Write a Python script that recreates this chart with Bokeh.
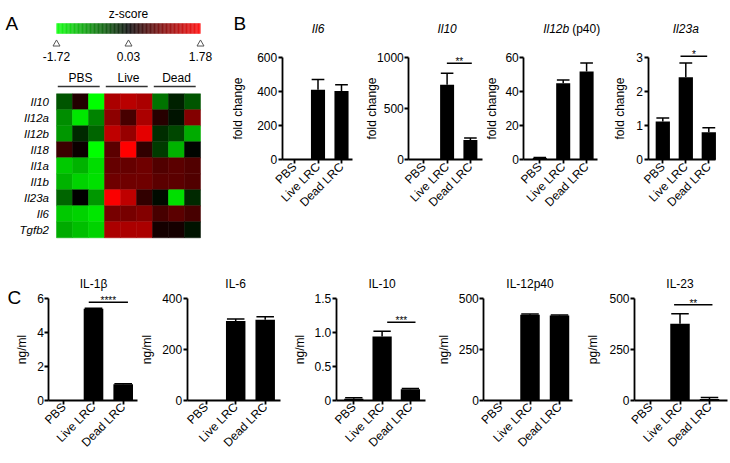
import math
import numpy as np
from bokeh.plotting import figure
from bokeh.models import Range1d, FixedTicker, LinearColorMapper, ColumnDataSource
from bokeh.layouts import row, column
from bokeh.transform import transform
from bokeh.core.properties import value
from bokeh.embed import file_html
from bokeh.resources import INLINE

FONT = "Liberation Sans"
FS = "12px"

# ---------------- Panel A data (z-scores) ----------------
genes = ["Il10", "Il12a", "Il12b", "Il18", "Il1a", "Il1b", "Il23a", "Il6", "Tgfb2"]
heat_groups = ["PBS", "Live", "Dead"]
z_il10 = [-0.55, 0.27, -1.72, 1.20, 1.30, 1.20, -0.75, -0.20, -0.55]
z_il12a = [-0.93, -1.55, -0.86, 1.00, 0.51, 1.20, 0.30, -0.10, 0.92]
z_il12b = [-1.00, -0.25, -0.66, 1.33, 1.06, 1.60, -0.28, -0.45, -1.14]
z_il18 = [0.44, 0.10, -1.72, 0.65, 1.78, 0.37, -0.38, -1.20, 0.00]
z_il1a = [-1.34, -1.20, -1.48, 0.72, 0.72, 0.79, 0.58, 0.65, 0.58]
z_il1b = [-1.20, -1.41, -1.51, 0.79, 0.79, 0.79, 0.65, 0.65, 0.58]
z_il23a = [-0.66, 0.03, -1.00, 1.75, 1.33, 0.37, -0.04, -1.50, -0.25]
z_il6 = [-1.34, -1.41, -1.55, 0.85, 0.85, 0.92, 0.51, 0.65, 0.51]
z_tgfb2 = [-1.14, -1.27, -1.41, 1.20, 1.20, 1.20, 0.17, 0.17, -0.10]
zscore_ticks = [-1.72, 0.03, 1.78]

# ---------------- Panel B data (fold change) ----------------
conditions = ["PBS", "Live LRC", "Dead LRC"]
il6_fc = [1, 412, 404]
il6_err = [0, 60, 37]
il10_fc = [1, 735, 193]
il10_err = [0, 114, 20]
il12b_fc = [1.0, 45, 52]
il12b_err = [0.4, 2, 5]
il23a_fc = [1.13, 2.43, 0.81]
il23a_err = [0.10, 0.42, 0.13]

# ---------------- Panel C data (protein) ----------------
il1b_ng = [0, 5.41, 0.94]
il1b_ng_err = [0, 0.03, 0.02]
il6_ng = [0, 312, 317]
il6_ng_err = [0, 8, 12]
il10_ng = [0.02, 0.94, 0.16]
il10_ng_err = [0.015, 0.08, 0.01]
il12p40_ng = [0, 421, 418]
il12p40_ng_err = [0, 4, 2]
il23_pg = [0, 377, 5]
il23_pg_err = [0, 49, 7]


def palette_gkr(n=256):
    pal = []
    for k in range(n):
        t = k / (n - 1)
        if t < 0.5:
            g = int(round(255 * (1 - 2 * t)))
            pal.append("#%02x%02x%02x" % (0, g, 0))
        else:
            r = int(round(255 * (2 * t - 1)))
            pal.append("#%02x%02x%02x" % (r, 0, 0))
    return pal


mapper = LinearColorMapper(palette=palette_gkr(), low=zscore_ticks[0], high=zscore_ticks[-1])

# ---------------- Panel A figure ----------------
A_W, A_H = 232, 273
CELL = 16.0
HEAT_LEFT, HEAT_TOP = 56.0, 93.3


def AX(px):
    return -0.5 + (px - HEAT_LEFT) / CELL


def AY(py):
    return -0.5 + (py - HEAT_TOP) / CELL


pa = figure(width=A_W, height=A_H, x_range=Range1d(AX(0), AX(A_W)), y_range=Range1d(AY(A_H), AY(0)),
            x_axis_location=None, y_axis_location=None, toolbar_location=None,
            output_backend="svg", min_border=0)
pa.outline_line_color = None
pa.grid.visible = False

heat_rows = [z_il10, z_il12a, z_il12b, z_il18, z_il1a, z_il1b, z_il23a, z_il6, z_tgfb2]
hx, hy, hz = [], [], []
for i, rv in enumerate(heat_rows):
    for j, v in enumerate(rv):
        hx.append(j)
        hy.append(i)
        hz.append(v)
hsrc = ColumnDataSource(dict(x=hx, y=hy, z=hz))
pa.rect(x="x", y="y", width=1, height=1, source=hsrc,
        fill_color=transform("z", mapper), line_color=transform("z", mapper), line_width=0.5)

# row labels
pa.text(x=[AX(48.5)] * len(genes), y=list(range(len(genes))), text=genes,
        text_font=value(FONT), text_font_size=value("11.5px"), text_font_style="italic",
        text_align="right", text_baseline="middle", text_color="black")

# group labels & lines
gx = [3 * g + 1 for g in range(len(heat_groups))]
pa.text(x=gx, y=[AY(77.5)] * 3, text=heat_groups, text_font=value(FONT), text_font_size=value("12px"),
        text_align="center", text_baseline="middle", text_color="black")
pa.segment(x0=[3 * g - 0.42 for g in range(3)], x1=[3 * g + 2.2 for g in range(3)],
           y0=[AY(86)] * 3, y1=[AY(86)] * 3, line_color="#333333", line_width=1.6)

# colour bar
nb = 180
span = zscore_ticks[-1] - zscore_ticks[0]
cb_vals = np.linspace(zscore_ticks[0], zscore_ticks[-1], nb)
cb_x = -0.5 + (np.arange(nb) + 0.5) * 9 / nb
cbsrc = ColumnDataSource(dict(x=cb_x, v=cb_vals))
pa.rect(x="x", y=AY(28), width=9 / nb * 1.1, height=10.6 / CELL, source=cbsrc,
        fill_color=transform("v", mapper), line_color=None)
tick_x = [-0.5 + (t - zscore_ticks[0]) / span * 9 for t in zscore_ticks]
pa.scatter(x=tick_x, y=[AY(43.5)] * 3, marker="triangle", size=7, fill_color="white",
           line_color="#555555", line_width=1)
pa.text(x=tick_x, y=[AY(56)] * 3, text=["%.2f" % t for t in zscore_ticks], text_font=value(FONT),
        text_font_size=value("12px"), text_align="center", text_baseline="middle", text_color="black")
pa.text(x=[4.0], y=[AY(13.5)], text=["z-score"], text_font=value(FONT), text_font_size=value("12px"),
        text_align="center", text_baseline="middle", text_color="black")
pa.text(x=[AX(5)], y=[AY(22.7)], text=["A"], text_font=value(FONT), text_font_size=value("19px"),
        text_align="left", text_baseline="alphabetic", text_color="black")


def bar_panel(fig_left, fig_top, W, H, axis_x, pbs_x, spacing, xaxis_end_x, zero_y, top_y,
              ymax, yticks, vals, errs, ylabel, bar_w, title_parts, title_y,
              sig=None, overrides=None, letter=None, label_standoff=5):
    upp = ymax / (zero_y - top_y)

    def X(px):
        return (px - pbs_x) / spacing

    def Y(py):
        return (zero_y - py) * upp

    p = figure(width=W, height=H, x_range=Range1d(X(fig_left), X(fig_left + W)),
               y_range=Range1d(Y(fig_top + H), Y(fig_top)),
               toolbar_location=None, output_backend="svg", min_border=0)
    p.grid.visible = False
    p.outline_line_color = None
    xa, ya = p.xaxis[0], p.yaxis[0]
    for ax in (xa, ya):
        ax.axis_line_width = 1.8
        ax.axis_line_color = "black"
        ax.major_tick_line_width = 1.8
        ax.major_tick_line_color = "black"
        ax.major_tick_out = 4
        ax.major_tick_in = 0
        ax.minor_tick_out = 0
        ax.minor_tick_in = 0
        ax.major_label_text_font = FONT
        ax.major_label_text_font_size = FS
        ax.major_label_text_color = "black"
        ax.major_label_standoff = 1
    ya.fixed_location = X(axis_x)
    xa.fixed_location = 0
    ya.ticker = FixedTicker(ticks=yticks)
    ya.bounds = (0, ymax)
    if overrides:
        ya.major_label_overrides = overrides
    xa.ticker = FixedTicker(ticks=list(range(len(conditions))))
    xa.major_label_overrides = {i: c for i, c in enumerate(conditions)}
    xa.major_label_orientation = math.pi / 4
    xa.bounds = (X(axis_x), X(xaxis_end_x))
    ya.axis_label = ylabel
    ya.axis_label_text_font = FONT
    ya.axis_label_text_font_size = FS
    ya.axis_label_text_font_style = "normal"
    ya.axis_label_text_color = "black"
    ya.axis_label_standoff = label_standoff

    xs = list(range(len(conditions)))
    p.vbar(x=xs, top=vals, width=bar_w, fill_color="black", line_color=None)
    ex = [x for x, e in zip(xs, errs) if e > 0]
    ev = [v for v, e in zip(vals, errs) if e > 0]
    et = [v + e for v, e in zip(vals, errs) if e > 0]
    cap = bar_w * 0.45
    p.segment(x0=ex, x1=ex, y0=ev, y1=et, line_color="black", line_width=1.5)
    p.segment(x0=[x - cap for x in ex], x1=[x + cap for x in ex], y0=et, y1=et,
              line_color="black", line_width=1.5)
    ty = Y(title_y)
    for txt, style, align, xo in title_parts:
        p.text(x=[1], y=[ty], text=[txt], x_offset=xo, text_font=value(FONT),
               text_font_size=value(FS), text_font_style=style, text_align=align,
               text_baseline="middle", text_color="black")
    if sig:
        sx0, sx1, sy_px, stars = sig
        sy = Y(sy_px)
        p.segment(x0=[sx0], x1=[sx1], y0=[sy], y1=[sy], line_color="black", line_width=1.5)
        p.text(x=[(sx0 + sx1) / 2], y=[sy + 1.5 * upp], text=[stars], text_font=value(FONT),
               text_font_size=value("10px"), text_align="center", text_baseline="alphabetic",
               text_color="black")
    if letter:
        lt, lx, ly = letter
        p.text(x=[X(lx)], y=[Y(ly)], text=[lt], text_font=value(FONT),
               text_font_size=value("19px"), text_align="left", text_baseline="alphabetic",
               text_color="black")
    return p


# Top row panels (B): zero line at 159.3 px, top tick at 57.3 px
TOP_H = 273
BZ, BT, BTI = 159.3, 57.3, 28
b1 = bar_panel(232, 0, 126, TOP_H, 281.7, 294.0, 23.5, 351.7, BZ, BT, 600, [0, 200, 400, 600],
               il6_fc, il6_err, "fold change", 0.6, [("Il6", "italic", "center", 0)], BTI,
               letter=("B", 233, 23), label_standoff=9)
b2 = bar_panel(358, 0, 128, TOP_H, 408.3, 423.3, 23.3, 481.7, BZ, BT, 1000, [0, 500, 1000],
               il10_fc, il10_err, "fold change", 0.6, [("Il10", "italic", "center", 0)], BTI,
               sig=(1 - 0.01, 2 + 0.06, 62.7, "**"), label_standoff=-5)
b3 = bar_panel(486, 0, 126, TOP_H, 523.3, 539.3, 23.4, 596.7, BZ, BT, 60, [0, 20, 40, 60],
               il12b_fc, il12b_err, "fold change", 0.6,
               [("Il12b", "italic", "right", 6), ("(p40)", "normal", "left", 9)], BTI,
               label_standoff=3)
b4 = bar_panel(612, 0, 118, TOP_H, 647.5, 662.3, 23.0, 715.0, BZ, BT, 3, [0, 1, 2, 3],
               il23a_fc, il23a_err, "fold change", 0.62, [("Il23a", "italic", "center", 0)], BTI,
               sig=(1 - 0.23, 2 - 0.07, 55.7, "*"), label_standoff=7)

# Bottom row panels (C): zero line at 399.5 px, top tick at 298.3 px
BOT_T, BOT_H = 273, 190
CZ, CT, CTI = 399.5, 298.3, 283
c1 = bar_panel(0, BOT_T, 140, BOT_H, 48.3, 63.3, 29.7, 136.7, CZ, CT, 6, [0, 2, 4, 6],
               il1b_ng, il1b_ng_err, "ng/ml", 0.66, [("IL-1β", "normal", "center", 0)], CTI,
               sig=(1 - 0.16, 2 + 0.16, 301.7, "****"), letter=("C", 7, 297))
c2 = bar_panel(140, BOT_T, 148, BOT_H, 186.7, 205.7, 29.5, 280.0, CZ, CT, 400, [0, 200, 400],
               il6_ng, il6_ng_err, "ng/ml", 0.66, [("IL-6", "normal", "center", 0)], CTI)
c3 = bar_panel(288, BOT_T, 148, BOT_H, 335.7, 353.3, 28.3, 425.0, CZ, CT, 1.5, [0, 0.5, 1.0, 1.5],
               il10_ng, il10_ng_err, "ng/ml", 0.68, [("IL-10", "normal", "center", 0)], CTI,
               sig=(1 + 0.18, 2 + 0.18, 321.7, "***"),
               overrides={0: "0", 0.5: "0.5", 1: "1.0", 1.5: "1.5"})
c4 = bar_panel(436, BOT_T, 150, BOT_H, 483.3, 500.0, 29.5, 571.7, CZ, CT, 500, [0, 250, 500],
               il12p40_ng, il12p40_ng_err, "ng/ml", 0.66, [("IL-12p40", "normal", "center", 0)], CTI,
               label_standoff=4)
c5 = bar_panel(586, BOT_T, 144, BOT_H, 634.0, 650.0, 29.5, 727.0, CZ, CT, 500, [0, 250, 500],
               il23_pg, il23_pg_err, "pg/ml", 0.66, [("IL-23", "normal", "center", 0)], CTI,
               sig=(1 - 0.2, 2 + 0.1, 304.3, "**"), label_standoff=6)

layout = column(row(pa, b1, b2, b3, b4, spacing=0), row(c1, c2, c3, c4, c5, spacing=0), spacing=0)

open("out.html", "w").write(file_html(layout, INLINE))
